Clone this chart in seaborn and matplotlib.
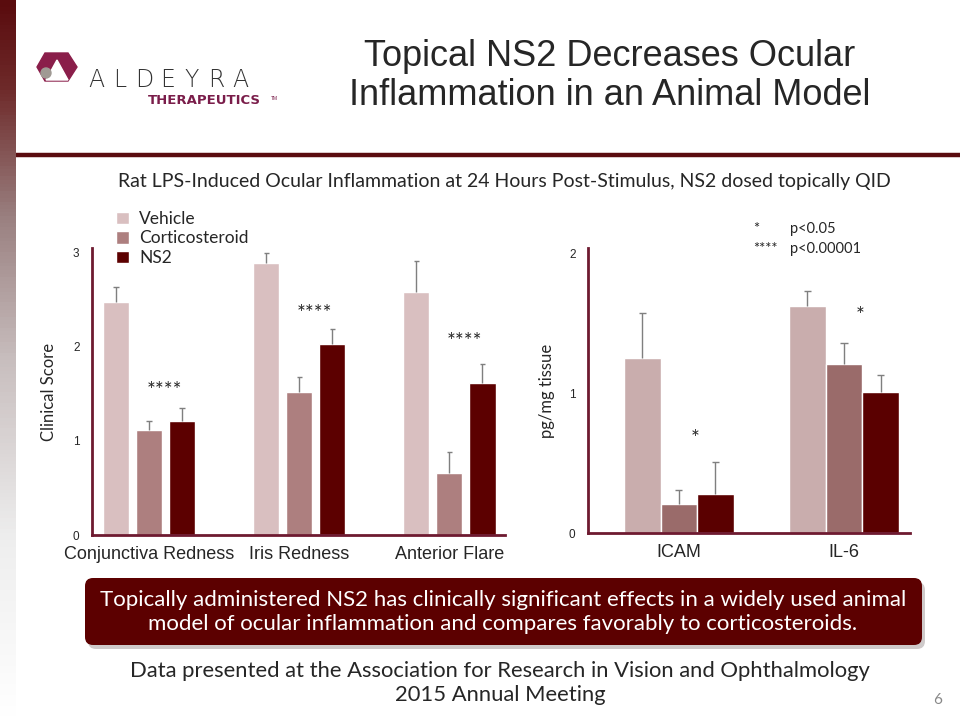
import pandas as pd
import numpy as np
import matplotlib
matplotlib.use("Agg")
import matplotlib.pyplot as plt
import seaborn as sns
from matplotlib.patches import Polygon, Circle, FancyBboxPatch
from matplotlib.colors import LinearSegmentedColormap

# data
groups = ["Vehicle", "Corticosteroid", "NS2"]

score_cats = ["Conjunctiva Redness", "Iris Redness", "Anterior Flare"]
score_vehicle = [2.48, 2.89, 2.58]
score_cortico = [1.12, 1.52, 0.66]
score_ns2 = [1.21, 2.03, 1.62]
score_vehicle_err = [0.16, 0.11, 0.33]
score_cortico_err = [0.09, 0.16, 0.22]
score_ns2_err = [0.14, 0.16, 0.20]
score_stars = ["****", "****", "****"]
score_star_y = [1.53, 2.35, 2.05]

tissue_cats = ["ICAM", "IL-6"]
tissue_vehicle = [1.25, 1.62]
tissue_cortico = [0.21, 1.21]
tissue_ns2 = [0.28, 1.01]
tissue_vehicle_err = [0.32, 0.11]
tissue_cortico_err = [0.10, 0.15]
tissue_ns2_err = [0.23, 0.12]
tissue_stars = ["*", "*"]
tissue_star_y = [0.67, 1.55]

left_colors = ["#d9bfc0", "#ad7f7f", "#5c0000"]
right_colors = ["#c9adad", "#9a6b6a", "#5a0000"]
spine_col = "#6e1a30"
maroon = "#5c0000"

sns.set_style("white")
plt.rcParams["font.family"] = ["Liberation Sans", "DejaVu Sans"]
calibri = ["Lato", "DejaVu Sans"]


def long_df(cats, vals, errs):
    rows = []
    for g, v, e in zip(groups, vals, errs):
        for c, vv, ee in zip(cats, v, e):
            rows.append({"cat": c, "group": g, "val": vv, "err": ee})
    return pd.DataFrame(rows)


df_score = long_df(score_cats, [score_vehicle, score_cortico, score_ns2],
                   [score_vehicle_err, score_cortico_err, score_ns2_err])
df_tissue = long_df(tissue_cats, [tissue_vehicle, tissue_cortico, tissue_ns2],
                    [tissue_vehicle_err, tissue_cortico_err, tissue_ns2_err])

fig = plt.figure(figsize=(9.6, 7.2), dpi=100)

ax1 = fig.add_axes([92 / 960, 1 - 535 / 720, 413 / 960, 287 / 720])
ax2 = fig.add_axes([588 / 960, 1 - 533 / 720, 322 / 960, 285 / 720])

sns.barplot(data=df_score, x="cat", y="val", hue="group", palette=left_colors,
            width=0.66, gap=0.21, errorbar=None, saturation=1, ax=ax1)
sns.barplot(data=df_tissue, x="cat", y="val", hue="group", palette=right_colors,
            width=0.665, gap=0, errorbar=None, saturation=1, ax=ax2, legend=False)


def add_errs(ax, df):
    # one-sided upper error bars, cap only at the top
    for g, cont in zip(groups, ax.containers):
        sub = df[df["group"] == g]
        for bar, e in zip(cont, sub["err"]):
            x = bar.get_x() + bar.get_width() / 2
            y = bar.get_height()
            w = bar.get_width() * 0.1
            ax.vlines(x, y, y + e, color="#7f7f7f", lw=1, zorder=3)
            ax.hlines(y + e, x - w, x + w, color="#7f7f7f", lw=1, zorder=3)


add_errs(ax1, df_score)
add_errs(ax2, df_tissue)

for ax in (ax1, ax2):
    sns.despine(ax=ax)
    for s in ("left", "bottom"):
        ax.spines[s].set_color(spine_col)
        ax.spines[s].set_linewidth(2)
    ax.tick_params(length=0, pad=9)
    ax.tick_params(axis="y", labelsize=8.5)
    ax.tick_params(axis="x", labelsize=13, pad=8)
    ax.set_xlabel("")

ax1.set_xlim(-0.38, 2.37)
ax1.set_ylim(0, 3.05)
ax1.set_yticks([0, 1, 2, 3])
ax1.set_ylabel("Clinical Score", family=calibri, fontsize=12)
ax1.yaxis.set_label_coords(-35 / 413, 0.5)
for i, (s, y) in enumerate(zip(score_stars, score_star_y)):
    ax1.text(i + 0.1, y, s, ha="center", va="center", fontsize=15, family=calibri)

ax2.set_xlim(-0.55, 1.40)
ax2.set_ylim(0, 2.036)
ax2.set_yticks([0, 1, 2])
ax2.set_ylabel("pg/mg tissue", family=calibri, fontsize=12)
ax2.yaxis.set_label_coords(-33 / 322, 0.5)
for i, (s, y) in enumerate(zip(tissue_stars, tissue_star_y)):
    ax2.text(i + 0.1, y, s, ha="center", va="center", fontsize=15, family=calibri)

sns.move_legend(ax1, "upper left", bbox_to_anchor=(116 / 960, 1 - 211 / 720),
                bbox_transform=fig.transFigure, frameon=False, title=None,
                handlelength=0.75, handleheight=0.75, handletextpad=0.6,
                labelspacing=0.2, borderpad=0, borderaxespad=0,
                prop={"family": calibri, "size": 12.5})

# overlay in pixel coords for slide decorations
deco = fig.add_axes([0, 0, 1, 1], facecolor="none")
deco.set_xlim(0, 960)
deco.set_ylim(720, 0)
deco.axis("off")

band = LinearSegmentedColormap.from_list(
    "band", [(0, "#5a0c0e"), (0.12, "#6e2a2a"), (0.3, "#9a8080"),
             (0.5, "#c8bebe"), (0.75, "#eeeeee"), (1, "#ffffff")])
deco.imshow(np.linspace(0, 1, 200).reshape(-1, 1), cmap=band, aspect="auto",
            extent=(0, 16, 720, 0))
deco.plot([16, 960], [155, 155], color="#5a0c10", lw=3.2, solid_capstyle="butt")

# logo
deco.add_patch(Polygon([(45, 53), (68, 53), (77, 67), (68, 81), (45, 81), (37, 67)],
                       closed=True, color="#8a1e4a"))
deco.add_patch(Polygon([(57, 60), (68, 80), (46, 80)], closed=True, color="white"))
deco.add_patch(Circle((46, 73), 5, color="#a09a94"))
for i, ch in enumerate("ALDEYRA"):
    deco.text(96 + i * 24, 80, ch, fontsize=17, color="#333333", va="center",
              ha="center", family=["DejaVu Sans"], fontweight="light")
deco.text(148, 101, "THERAPEUTICS", fontsize=9.5, color="#7a1d4a", va="center",
          ha="left", fontweight="bold", family=["DejaVu Sans"])
deco.text(271, 98, "TM", fontsize=3.5, color="#7a1d4a", va="center", ha="left")

deco.text(610, 76, "Topical NS2 Decreases Ocular\nInflammation in an Animal Model",
          ha="center", va="center", fontsize=26, linespacing=1.18,
          family=["Liberation Sans Narrow", "Liberation Sans"])

deco.text(504, 181, "Rat LPS-Induced Ocular Inflammation at 24 Hours Post-Stimulus, NS2 dosed topically QID",
          ha="center", va="center", fontsize=14, family=calibri)

deco.text(753, 229, "*", fontsize=10.5, family=calibri, va="center")
deco.text(790, 229, "p<0.05", fontsize=10.5, family=calibri, va="center")
deco.text(753, 249, "****", fontsize=10.5, family=calibri, va="center")
deco.text(790, 249, "p<0.00001", fontsize=10.5, family=calibri, va="center")

deco.add_patch(FancyBboxPatch((88, 582), 837, 67, boxstyle="round,pad=0,rounding_size=8",
                              color="#b0a8a8", alpha=0.6, lw=0))
deco.add_patch(FancyBboxPatch((85, 578), 837, 67, boxstyle="round,pad=0,rounding_size=8",
                              color=maroon, lw=0))
deco.text(503, 612, "Topically administered NS2 has clinically significant effects in a widely used animal\nmodel of ocular inflammation and compares favorably to corticosteroids.",
          ha="center", va="center", color="white", fontsize=16, linespacing=1.2,
          family=calibri)

deco.text(500, 683, "Data presented at the Association for Research in Vision and Ophthalmology\n2015 Annual Meeting",
          ha="center", va="center", fontsize=15.8, linespacing=1.2, family=calibri)
deco.text(938, 700, "6", ha="center", va="center", fontsize=11, color="#888888", family=calibri)

fig.savefig("out.png", dpi=100)
